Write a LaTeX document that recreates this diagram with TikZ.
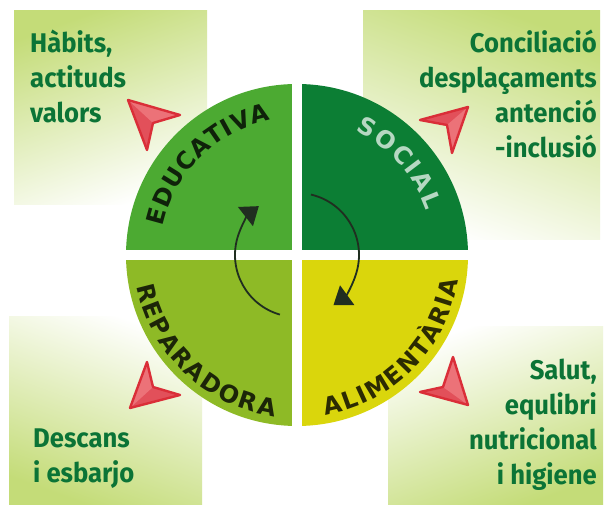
\documentclass[tikz,border=0pt]{standalone}
\usepackage{fontspec}
\usetikzlibrary{arrows.meta,decorations.text}

\newfontfamily\boxfont[FakeStretch=0.95]{Fira Sans}
\newfontfamily\ringfont{DejaVu Sans}

\definecolor{panelgreen}{RGB}{196,220,120}
\definecolor{textgreen}{RGB}{11,116,54}
\definecolor{educol}{RGB}{76,170,50}
\definecolor{socialcol}{RGB}{12,126,52}
\definecolor{repcol}{RGB}{142,186,38}
\definecolor{alicol}{RGB}{218,214,12}
\definecolor{pointred}{RGB}{226,80,90}
\definecolor{pointlight}{RGB}{236,114,120}
\definecolor{pointedge}{RGB}{218,46,56}
\definecolor{arcdark}{RGB}{32,46,32}

\newcommand{\redpointer}[4]{% tip, barb, notch, lit barb
  \fill[pointred] #1 -- #2 -- #3 -- #4 -- cycle;
  \fill[pointlight] #1 -- #3 -- #4 -- cycle;
  \draw[pointedge, line width=2.4pt, line join=round] #1 -- #2 -- #3 -- #4 -- cycle;
}

\begin{document}
\begin{tikzpicture}[x=1pt, y=1pt,
    boxtext/.style={inner sep=0pt, text=textgreen,
      font=\boxfont\bfseries\fontsize{27}{35}\selectfont},
    ring/.style 2 args={decorate, decoration={text along path,
      text align={fit to path},
      text={|\ringfont\bfseries\fontsize{24}{24}\selectfont\color{#1}|#2}}},
    turn/.style={arcdark, line width=1.8pt, -{Triangle[width=24pt,length=17pt]}}]
  \useasboundingbox (0,0) rectangle (607,505);
  \fill[white] (0,0) rectangle (607,505);

  % corner panels
  \shade[top color=panelgreen, bottom color=white, shading angle=20] (14,300) rectangle (207,494);
  \shade[top color=panelgreen, bottom color=white, shading angle=-20] (363,265) rectangle (600,494);
  \shade[top color=white, bottom color=panelgreen, shading angle=-20] (9,0) rectangle (202,188);
  \shade[top color=white, bottom color=panelgreen, shading angle=20] (388,0) rectangle (603,178);

  \node[boxtext, align=left, anchor=base west] (habits) at (30,382) {Hàbits,\\actituds\\valors};
  \node[boxtext, align=right, anchor=base east] (concilia) at (597,347) {Conciliació\\desplaçaments\\antenció\\-inclusió};
  \node[boxtext, align=left, anchor=base west] (descans) at (33,22) {Descans\\i esbarjo};
  \node[boxtext, align=right, anchor=base east] (salut) at (597,20) {Salut,\\equlibri\\nutricional\\i higiene};

  % the wheel
  \begin{scope}[shift={(297,250)}]
    \coordinate (C) at (0,0);
    \fill[educol] (C) -- (180:171) arc[start angle=180, end angle=90, radius=171] -- cycle;
    \fill[socialcol] (C) -- (90:171) arc[start angle=90, end angle=0, radius=171] -- cycle;
    \fill[repcol] (C) -- (180:171) arc[start angle=180, end angle=270, radius=171] -- cycle;
    \fill[alicol] (C) -- (270:171) arc[start angle=270, end angle=360, radius=171] -- cycle;
    \draw[white, line width=10pt] (0,-172) -- (0,172);
    \draw[white, line width=10pt] (-172,0) -- (172,0);

    \path[ring={educol!20!black}{EDUCATIVA}] (168:137) arc[start angle=168, end angle=101, radius=137];
    \path[ring={socialcol!30!white}{SOCIAL}] (65:137) arc[start angle=65, end angle=19, radius=137];
    \path[ring={repcol!20!black}{REPARADORA}] (191:163) arc[start angle=191, end angle=262, radius=163];
    \path[ring={alicol!20!black}{ALIMENTÀRIA}] (280:163) arc[start angle=280, end angle=351, radius=163];

    \coordinate (cycleL) at (254:62);
    \coordinate (cycleR) at (77:62);
    \draw[turn] (cycleL) arc[start angle=254, end angle=128, radius=62];
    \draw[turn] (cycleR) arc[start angle=77, end angle=-54, radius=62];
  \end{scope}

  % pointers
  \redpointer{(128,405)}{(147,355)}{(153,382)}{(180,390)}
  \redpointer{(468,398)}{(420,385)}{(447,380)}{(452,352)}
  \redpointer{(130,97)}{(180,110)}{(153,118)}{(147,143)}
  \redpointer{(468,100)}{(420,113)}{(443,118)}{(453,148)}
\end{tikzpicture}
\end{document}
